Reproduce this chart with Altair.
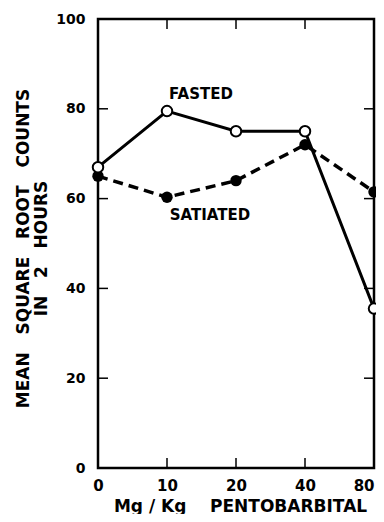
import altair as alt
import pandas as pd

doses = ["0", "10", "20", "40", "80"]
fasted = [67, 79.5, 75, 75, 35.5]
satiated = [65, 60.3, 64, 72, 61.5]
y_ticks = [0, 20, 40, 60, 80, 100]
inner_y_ticks = [20, 40, 60, 80]
inner_x_ticks = ["10", "20", "40"]

FONT = "DejaVu Sans"
NB = "\u00a0"

y_title_words = [("MEAN", "SQUARE", "ROOT", "COUNTS"), ("IN", "2", "HOURS")]
y_title = [(NB * 3).join(y_title_words[0]), (NB * 3).join(y_title_words[1])]
x_title = "Mg / Kg" + NB * 4 + "PENTOBARBITAL"

df = pd.DataFrame({
    "dose": doses * 2,
    "value": fasted + satiated,
    "group": ["FASTED"] * 5 + ["SATIATED"] * 5,
})
fdf = df[df.group == "FASTED"]
sdf = df[df.group == "SATIATED"]

xs = alt.Scale(domain=doses, type="point", padding=0)
ys = alt.Scale(domain=[0, 100], nice=False)

def X():
    return alt.X("dose:O", scale=xs, sort=doses)

def Y():
    return alt.Y("value:Q", scale=ys)

x_enc = alt.X("dose:O", scale=xs, sort=doses,
              axis=alt.Axis(title=x_title, labelAngle=0,
                            labelAlign=alt.condition("datum.value == '80'",
                                                     alt.value("right"), alt.value("center")),
                            tickSize=0, domain=False, labelPadding=10,
                            labelFont=FONT, labelFontSize=15, labelFontWeight="bold",
                            labelColor="black", titleFont=FONT, titleFontSize=17,
                            titleFontWeight="bold", titleColor="black",
                            titleBaseline="alphabetic", titleY=43, titleX=142))
y_enc = alt.Y("value:Q", scale=ys,
              axis=alt.Axis(title=y_title,
                            values=y_ticks, tickSize=0, domain=False, grid=False,
                            labelPadding=13, labelFont=FONT, labelFontSize=14,
                            labelFontWeight="bold", labelColor="black",
                            titleFont=FONT, titleFontSize=17, titleFontWeight="bold",
                            titleColor="black", titlePadding=5, titleLineHeight=18,
                            titleY=229))

sat_line = alt.Chart(sdf).mark_line(color="black", strokeWidth=3.5,
                                    strokeDash=[10, 6]).encode(x=x_enc, y=y_enc)
fast_line = alt.Chart(fdf).mark_line(color="black", strokeWidth=3).encode(x=X(), y=Y())
sat_pts = alt.Chart(sdf).mark_point(filled=True, color="black", size=130,
                                    opacity=1).encode(x=X(), y=Y())
fast_pts = alt.Chart(fdf).mark_point(filled=True, fill="white", stroke="black",
                                     strokeWidth=2, size=110, opacity=1).encode(x=X(), y=Y())

lab_df = pd.DataFrame({"dose": ["10", "10"], "value": [83.3, 56.3],
                       "label": ["FASTED", "SATIATED"]})
lab_f = alt.Chart(lab_df[lab_df.label == "FASTED"]).mark_text(
    font=FONT, fontSize=15, fontWeight="bold", color="black", dx=34).encode(
    x=X(), y=Y(), text="label")
lab_s = alt.Chart(lab_df[lab_df.label == "SATIATED"]).mark_text(
    font=FONT, fontSize=15, fontWeight="bold", color="black", dx=43).encode(
    x=X(), y=Y(), text="label")

ytick_df = pd.DataFrame({"value": inner_y_ticks})
left_ticks = alt.Chart(ytick_df).mark_rule(color="black", strokeWidth=1.5).encode(
    y=Y(), x=alt.value(0), x2=alt.value(10))
right_ticks = alt.Chart(ytick_df).mark_rule(color="black", strokeWidth=1.5).encode(
    y=Y(), x=alt.value(266), x2=alt.value(276))
xtick_df = pd.DataFrame({"dose": inner_x_ticks})
top_ticks = alt.Chart(xtick_df).mark_rule(color="black", strokeWidth=1.5).encode(
    x=X(), y=alt.value(0), y2=alt.value(10))
bot_ticks = alt.Chart(xtick_df).mark_rule(color="black", strokeWidth=1.5).encode(
    x=X(), y=alt.value(439), y2=alt.value(449))

chart = alt.layer(sat_line, fast_line, left_ticks, right_ticks, top_ticks, bot_ticks,
                  sat_pts, fast_pts, lab_f, lab_s).properties(
    width=276, height=449,
    padding={"left": 90, "top": 11, "right": 2, "bottom": 46},
    autosize=alt.AutoSizeParams(type="none"),
    background="white",
).configure_view(stroke="black", strokeWidth=2.5)

chart.save("out.html", embed_options={"renderer": "svg", "actions": False})
